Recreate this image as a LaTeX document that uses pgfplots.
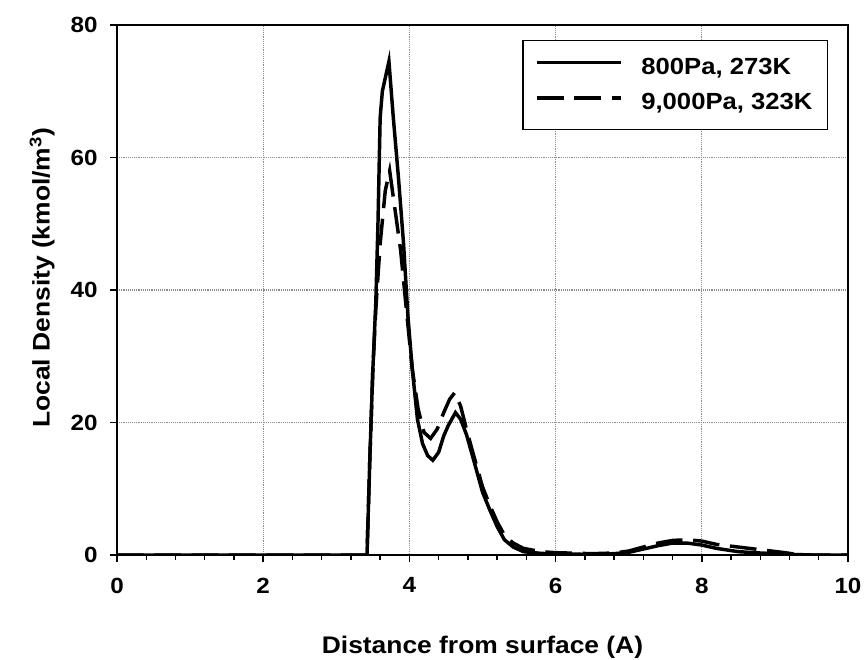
\documentclass[border=0pt]{standalone}
\usepackage{fontspec}
\setmainfont{Liberation Sans}[FakeStretch=1.1]
\usepackage{pgfplots}
\pgfplotsset{compat=1.18}
\pgfplotstableread{
x y
0 0
3.42 0
3.46 15
3.50 28
3.54 38
3.57 50
3.60 66
3.63 70
3.72 74.5
3.78 66
3.85 57
3.92 47
3.98 36
4.04 28
4.11 20.5
4.18 16.8
4.25 15
4.32 14.3
4.40 15.5
4.47 18
4.53 19.5
4.63 21.5
4.70 20.5
4.78 18.2
4.88 14.3
5.00 9.5
5.10 6.8
5.20 4.3
5.30 2.3
5.42 1.2
5.56 0.5
5.80 0.25
6.00 0.15
6.50 0.1
6.80 0.2
7.00 0.4
7.20 0.9
7.40 1.4
7.60 1.8
7.80 1.8
8.00 1.5
8.20 1.0
8.50 0.5
8.80 0.3
9.20 0.1
9.50 0
10 0
}\lowp
\pgfplotstableread{
x y
0 0
3.42 0
3.46 15
3.50 28
3.54 37
3.60 47
3.67 55
3.73 58
3.78 54
3.88 46
3.95 38
4.04 28
4.12 22
4.20 18.5
4.29 17.6
4.38 19
4.47 21.5
4.55 23.5
4.62 24.5
4.70 22.5
4.78 19
4.88 15
5.00 10.3
5.10 7.5
5.20 5
5.30 3.0
5.42 1.8
5.56 1.0
5.80 0.5
6.00 0.35
6.50 0.2
6.80 0.3
7.00 0.6
7.20 1.2
7.40 1.8
7.60 2.2
7.80 2.3
8.00 2.1
8.20 1.6
8.50 1.2
8.80 0.8
9.10 0.4
9.30 0.1
9.40 0
10 0
}\highp
\begin{document}
\begin{tikzpicture}
\begin{axis}[
  name=ax,
  scale only axis,
  width=548.25pt, height=397.5pt,
  xmin=0, xmax=10, ymin=0, ymax=80,
  xtick={0,2,...,10}, ytick={0,20,...,80},
  minor x tick num=4,
  tick align=outside, tick pos=left,
  major tick length=5pt, minor tick length=3.5pt,
  every tick/.style={black, line width=1.1pt},
  grid=major,
  major grid style={densely dotted, black!45, line width=0.8pt},
  axis line style={line width=1.8pt},
  /pgf/number format/assume math mode=true,
  ticklabel style={font=\fontsize{16.5}{18}\selectfont\bfseries},
  xticklabel shift=8.5pt,
  yticklabel shift=6pt,
  xlabel={Distance from surface (A)},
  ylabel={Local Density (kmol/m\textsuperscript{3})},
  label style={font=\fontsize{18}{20}\selectfont\bfseries},
  xlabel style={at={(axis description cs:0.5,-0.185)}, anchor=base},
  ylabel style={at={(axis description cs:-0.092,0.523)}, anchor=base},
  legend style={at={(0.9726,0.9717)}, anchor=north east, draw=black,
    line width=1.1pt, fill=white,
    font=\fontsize{17.5}{19}\selectfont\bfseries,
    inner xsep=9pt, inner ysep=11pt, row sep=9pt,
    /tikz/every odd column/.append style={column sep=12pt}},
  legend cell align=left,
  legend image code/.code={\draw[#1] (0pt,0.35em) -- (63pt,0.35em);},
]
\addplot[black, line width=2.6pt] table[x=x,y=y] {\lowp};
\addlegendentry{800Pa, 273K}
\addplot[black, line width=2.6pt, dash pattern=on 20pt off 8pt] table[x=x,y=y] {\highp};
\addlegendentry{9,000Pa, 323K}
\end{axis}
\pgfresetboundingbox
\path ([shift={(-87.75pt,-78.75pt)}]ax.south west) rectangle ([shift={(12.75pt,18.75pt)}]ax.north east);
\end{tikzpicture}
\end{document}
